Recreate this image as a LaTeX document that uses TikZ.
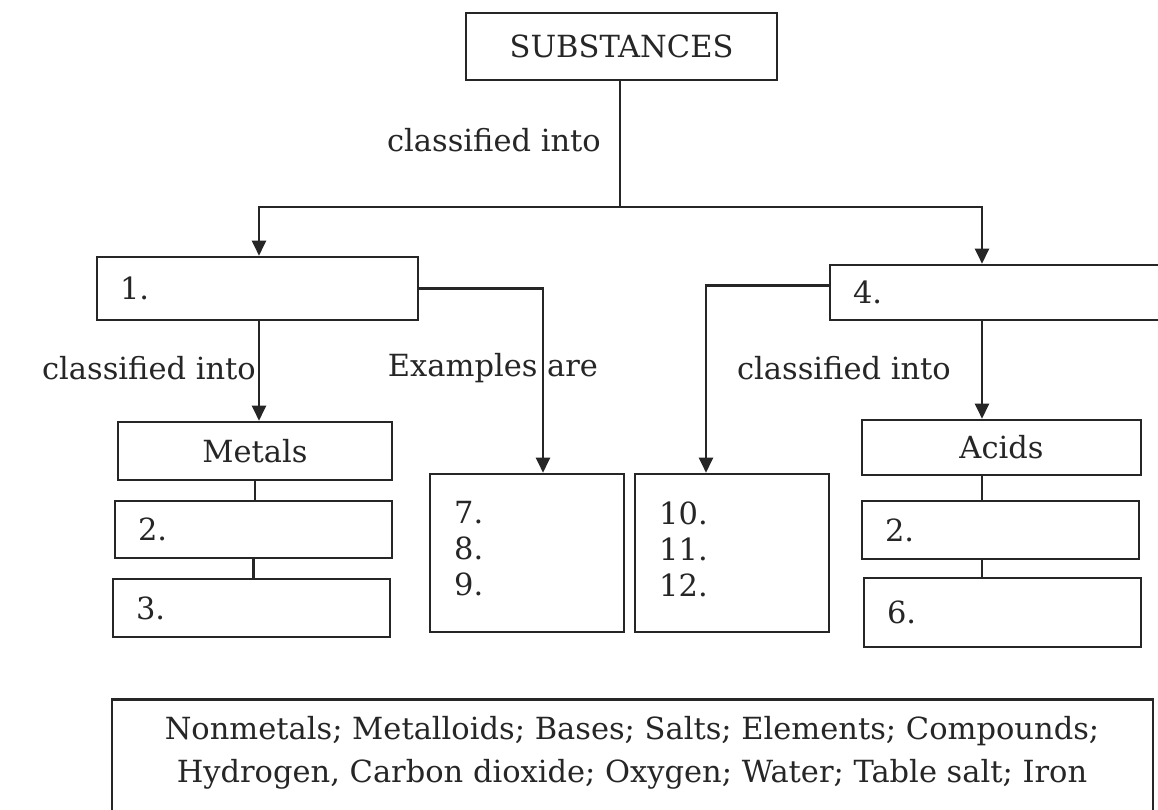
\documentclass[tikz,border=0pt]{standalone}
\usepackage{fontspec}
\setmainfont{DejaVu Serif}
\usetikzlibrary{arrows.meta}
\begin{document}
\begin{tikzpicture}[x=1pt,y=-1pt,
  ink/.style={draw=black!85},
  box/.style={ink, line width=2.6pt, inner sep=0pt, text=black!85, font=\fontsize{30.5}{36}\selectfont},
  numbox/.style={box, inner xsep=23pt, text width=#1, align=left},
  conn/.style={ink, line width=2.2pt},
  arr/.style={conn, -{Triangle[length=15pt,width=14pt]}},
  lbl/.style={text=black!85, font=\fontsize{30.5}{36}\selectfont, inner sep=1pt}
]
\clip (0,0) rectangle (1158,809);
\fill[white] (0,0) rectangle (1158,809);

\node[box, minimum width=311pt, minimum height=67pt] (subs) at (621.5,46.5) {SUBSTANCES};
\node[numbox=275pt, minimum height=63pt] (one) at (257.5,288.5) {1.};
\node[numbox=294pt, minimum height=55pt] (four) at (1000,292.5) {4.};

\node[box, minimum width=274pt, minimum height=58pt] (metals) at (255,451) {Metals};
\node[numbox=231pt, minimum height=57pt] (m2) at (253.5,529.5) {2.};
\node[numbox=231pt, minimum height=58pt] (m3) at (251.5,608) {3.};

\node[box, minimum width=194pt, minimum height=158pt] (ex) at (527,553) {};
\node[lbl, align=left, anchor=west] (exT) at (453,549) {7.\\8.\\9.};
\node[box, minimum width=194pt, minimum height=158pt] (nm) at (732,553) {};
\node[lbl, align=left, anchor=west] (nmT) at (658,549) {10.\\11.\\12.};

\node[box, minimum width=279pt, minimum height=55pt] (acids) at (1001.5,447.5) {Acids};
\node[numbox=231pt, minimum height=58pt] (a2) at (1000.5,530) {2.};
\node[numbox=231pt, minimum height=69pt] (a6) at (1002.5,612.5) {6.};

\node[box, minimum width=1041pt, minimum height=150pt, anchor=north] (legendbox) at (632.5,698) {};
\node[lbl, align=center, font=\fontsize{30.5}{43}\selectfont] (legend) at (632,753) {Nonmetals; Metalloids; Bases; Salts; Elements; Compounds;\\Hydrogen, Carbon dioxide; Oxygen; Water; Table salt; Iron};

\coordinate (split) at (620,207);
\coordinate (colR) at (982,0);
\coordinate (colL) at (259,0);
\coordinate (colE) at (543,0);
\coordinate (colF) at (706,0);

\draw[conn] (subs.south -| split) -- (split);
\draw[arr] (split) -| (one.north -| colL);
\draw[arr] (split) -| (four.north -| colR);
\draw[arr] (one.south -| colL) -- (metals.north -| colL);
\draw[arr] (one.east) -| (ex.north -| colE);
\draw[arr] ([yshift=7pt]four.west) -| (nm.north -| colF);
\draw[arr] (four.south -| colR) -- (acids.north -| colR);
\draw[conn] (metals.south) -- (metals.south |- m2.north);
\draw[conn] (m2.south) -- (m2.south |- m3.north);
\draw[conn] (acids.south -| colR) -- (a2.north -| colR);
\draw[conn] (a2.south -| colR) -- (a6.north -| colR);

\node[lbl] (c1) at (494,140) {classified into};
\node[lbl] (c2) at (149,368) {classified into};
\node[lbl] (c3) at (493,368) {Examples are};
\node[lbl] (c4) at (844,368) {classified into};
\end{tikzpicture}
\end{document}
